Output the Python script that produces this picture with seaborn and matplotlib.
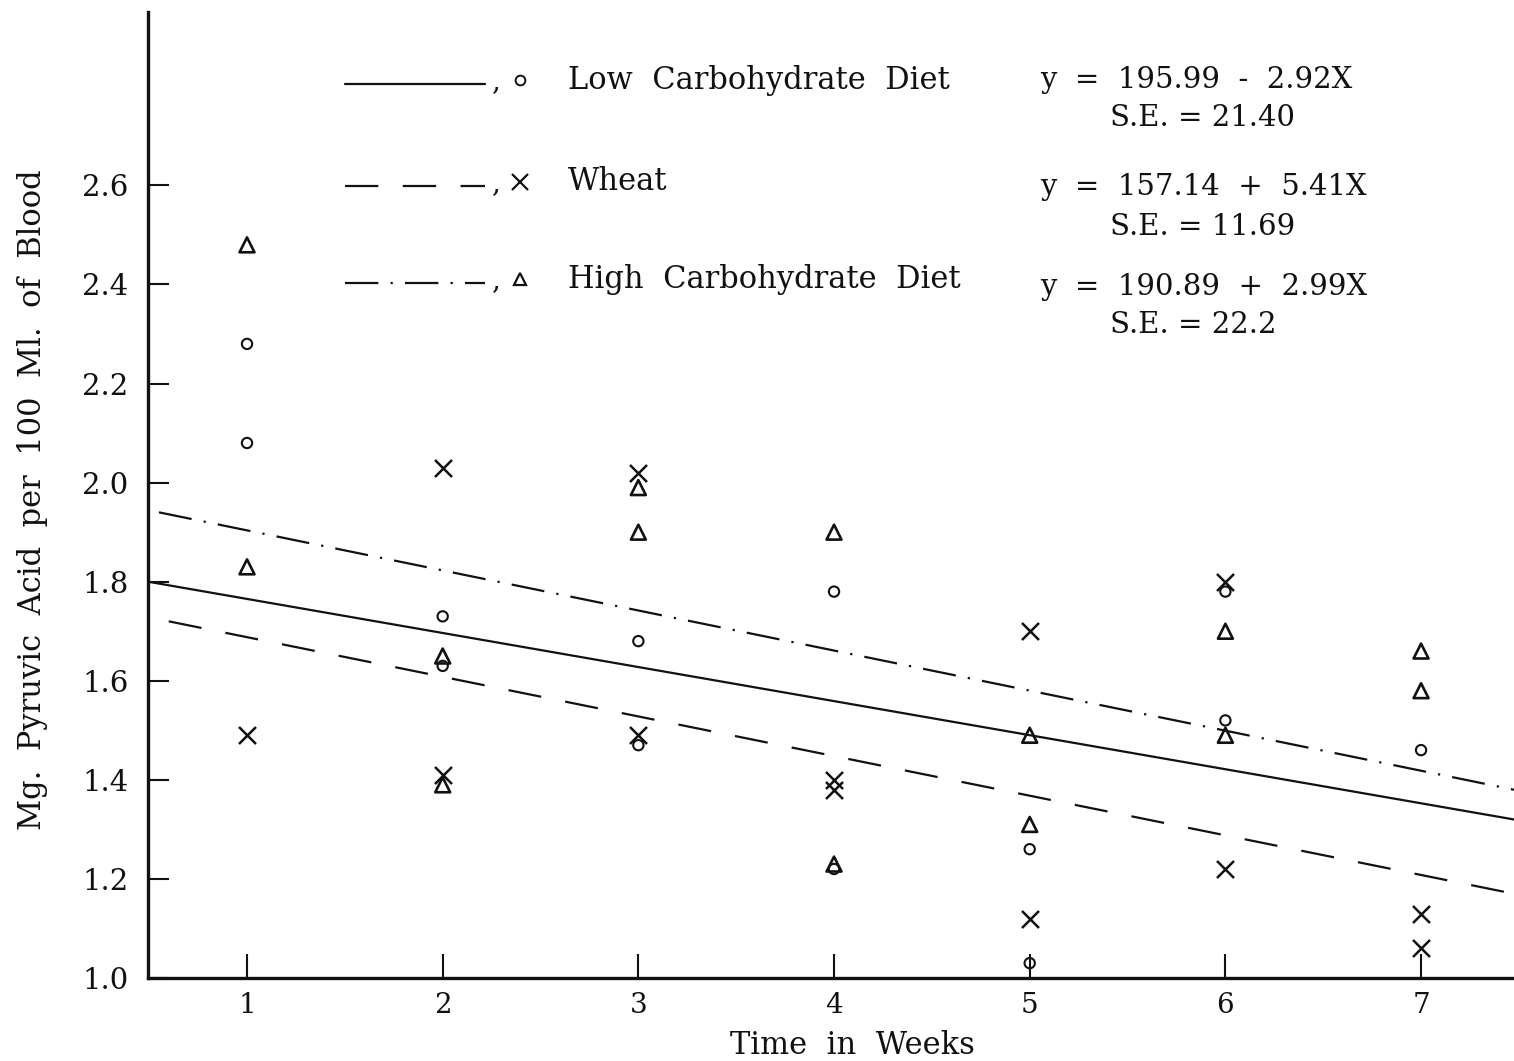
import numpy as np
import pandas as pd
import matplotlib
matplotlib.use("Agg")
import matplotlib.pyplot as plt
from matplotlib.lines import Line2D
import seaborn as sns

# ---- data -------------------------------------------------------------
low_weeks = [1, 1, 2, 2, 3, 3, 4, 4, 5, 5, 6, 6, 7]
low_vals = [2.28, 2.08, 1.73, 1.63, 1.68, 1.47, 1.78, 1.22, 1.26, 1.03, 1.78, 1.52, 1.46]

wheat_weeks = [1, 2, 2, 3, 3, 4, 4, 5, 5, 6, 6, 7, 7]
wheat_vals = [1.49, 2.03, 1.41, 2.02, 1.49, 1.40, 1.38, 1.70, 1.12, 1.80, 1.22, 1.13, 1.06]

high_weeks = [1, 1, 2, 2, 3, 3, 4, 4, 5, 5, 6, 6, 7, 7]
high_vals = [2.48, 1.83, 1.65, 1.39, 1.99, 1.90, 1.90, 1.23, 1.49, 1.31, 1.70, 1.49, 1.66, 1.58]

# fitted regression lines (start / end)
low_fit_x = [0.494, 7.475]
low_fit_y = [1.80, 1.32]
wheat_fit_x = [0.60, 7.475]
wheat_fit_y = [1.72, 1.17]
high_fit_x = [0.55, 7.475]
high_fit_y = [1.94, 1.38]

diet_names = ["Low  Carbohydrate  Diet", "Wheat", "High  Carbohydrate  Diet"]
equations = ["y  =  195.99  -  2.92X", "y  =  157.14  +  5.41X", "y  =  190.89  +  2.99X"]
std_errors = ["S.E. = 21.40", "S.E. = 11.69", "S.E. = 22.2"]

y_ticks = [1.0, 1.2, 1.4, 1.6, 1.8, 2.0, 2.2, 2.4, 2.6]
x_ticks = [1, 2, 3, 4, 5, 6, 7]

# ---- style ------------------------------------------------------------
sns.set_theme(style="white")
plt.rcParams["font.family"] = ["DejaVu Serif"]
ink = "#111111"

W, H = 1514, 1061
fig = plt.figure(figsize=(W / 100, H / 100), dpi=100)
fig.patch.set_facecolor("white")
ax = fig.add_axes([148 / W, 1 - 978 / H, 1 - 148 / W, (978 - 12) / H])
ax.set_facecolor("white")

solid = "-"
dashed = (0, (15, 11))
dashdot = (0, (15, 5.5, 1.0, 5.5))

# regression lines
sns.lineplot(x=low_fit_x, y=low_fit_y, ax=ax, color=ink, lw=1.6,
             linestyle=solid, estimator=None, sort=False)
sns.lineplot(x=wheat_fit_x, y=wheat_fit_y, ax=ax, color=ink, lw=1.6,
             linestyle=dashed, estimator=None, sort=False)
sns.lineplot(x=high_fit_x, y=high_fit_y, ax=ax, color=ink, lw=1.6,
             linestyle=dashdot, estimator=None, sort=False)

# observations
sns.scatterplot(x=low_weeks, y=low_vals, ax=ax, marker="o", s=55,
                facecolor="none", edgecolor=ink, linewidth=1.5, zorder=3)
sns.scatterplot(x=wheat_weeks, y=wheat_vals, ax=ax, marker="x", s=150,
                color=ink, linewidth=1.8, zorder=3)
sns.scatterplot(x=high_weeks, y=high_vals, ax=ax, marker="^", s=115,
                facecolor="none", edgecolor=ink, linewidth=1.9, zorder=3)

# axes
ax.set_xlim(0.494, 7.475)
ax.set_ylim(1.0, 2.95)
for side in ["top", "right"]:
    ax.spines[side].set_visible(False)
for side in ["left", "bottom"]:
    ax.spines[side].set_color(ink)
    ax.spines[side].set_linewidth(2.4)

ax.set_yticks(y_ticks)
ax.set_yticklabels([f"{v:.1f}" for v in y_ticks])
ax.set_xticks(x_ticks)
ax.set_xticklabels([str(v) for v in x_ticks])
ax.tick_params(axis="y", left=True, direction="in", length=15, width=1.5,
               pad=14, labelsize=21, colors=ink)
ax.tick_params(axis="x", bottom=True, direction="in", length=17, width=1.5,
               pad=10, labelsize=20, colors=ink)

ax.set_ylabel("Mg.  Pyruvic  Acid  per  100  Ml.  of  Blood", fontsize=22, color=ink)
ax.yaxis.set_label_coords(-0.073, 0.495)
ax.set_xlabel("Time  in  Weeks", fontsize=22, color=ink)
ax.xaxis.set_label_coords(0.516, -0.054)


# key at the top of the plot
def fx(px):
    return px / W


def fy(py):
    return 1 - py / H


key_rows = [84, 186, 283]
key_styles = [solid, dashed, dashdot]
key_markers = [dict(marker="o", ms=7, mfc="none", mec=ink, mew=1.4),
               dict(marker="x", ms=11, mec=ink, mew=1.6),
               dict(marker="^", ms=8.5, mfc="none", mec=ink, mew=1.6)]
for row, style, mk, name in zip(key_rows, key_styles, key_markers, diet_names):
    fig.add_artist(Line2D([fx(345), fx(485)], [fy(row), fy(row)],
                          transform=fig.transFigure, color=ink, lw=1.6,
                          linestyle=style))
    fig.text(fx(492), fy(row - 2), ",", fontsize=20, color=ink,
             ha="left", va="center")
    fig.add_artist(Line2D([fx(520)], [fy(row - 4)], transform=fig.transFigure,
                          linestyle="none", **mk))
    fig.text(fx(568), fy(row - 4), name, fontsize=22, color=ink,
             ha="left", va="center")

eq_rows = [80, 187, 287]
se_rows = [118, 227, 325]
for r1, r2, eq, se in zip(eq_rows, se_rows, equations, std_errors):
    fig.text(fx(1040), fy(r1), eq, fontsize=21, color=ink, ha="left", va="center")
    fig.text(fx(1110), fy(r2), se, fontsize=21, color=ink, ha="left", va="center")

fig.savefig("out.png", dpi=100, facecolor="white")
